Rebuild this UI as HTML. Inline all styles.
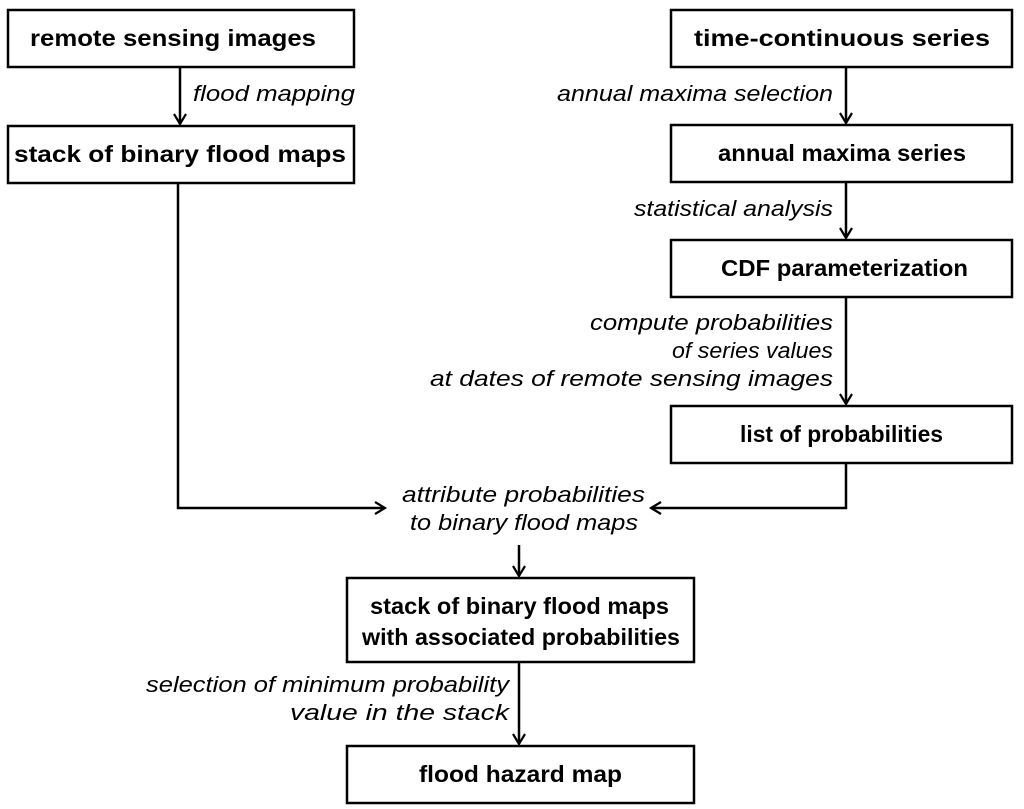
<!DOCTYPE html>
<html><head><style>body{margin:0;background:#fff}svg{display:block}</style></head>
<body>
<svg width="1024" height="809" viewBox="0 0 1024 809" xmlns="http://www.w3.org/2000/svg" font-family="Liberation Sans, sans-serif">
<defs><marker id="a" markerWidth="14" markerHeight="14" refX="11" refY="7" orient="auto" markerUnits="userSpaceOnUse"><path d="M1,1 L11,7 L1,13" fill="none" stroke="#000" stroke-width="2.2"/></marker></defs>
<g fill="#fff" stroke="#000" stroke-width="2.5">
<rect x="8" y="10" width="346" height="57"/>
<rect x="8" y="126" width="346" height="57"/>
<rect x="671" y="10" width="341" height="57"/>
<rect x="671" y="125" width="341" height="57"/>
<rect x="671" y="240" width="341" height="57"/>
<rect x="671" y="406" width="341" height="57"/>
<rect x="347" y="578" width="347" height="84"/>
<rect x="347" y="746" width="347" height="57"/>
</g>
<g stroke="#000" stroke-width="2.5" fill="none" marker-end="url(#a)">
<line x1="180" y1="67" x2="180" y2="124"/>
<polyline points="178,183 178,508 385,508"/>
<polyline points="846,463 846,508 651,508"/>
<line x1="846" y1="67" x2="846" y2="123"/>
<line x1="846" y1="182" x2="846" y2="238"/>
<line x1="846" y1="297" x2="846" y2="404"/>
<line x1="519" y1="545" x2="519" y2="576"/>
<line x1="519" y1="662" x2="519" y2="744"/>
</g>
<g font-weight="bold" font-size="23" fill="#000" lengthAdjust="spacingAndGlyphs">
<text x="30" y="46" textLength="286" lengthAdjust="spacingAndGlyphs">remote sensing images</text>
<text x="14" y="162" textLength="332" lengthAdjust="spacingAndGlyphs">stack of binary flood maps</text>
<text x="694" y="46" textLength="296" lengthAdjust="spacingAndGlyphs">time-continuous series</text>
<text x="718" y="161" textLength="248" lengthAdjust="spacingAndGlyphs">annual maxima series</text>
<text x="721" y="276" textLength="247" lengthAdjust="spacingAndGlyphs">CDF parameterization</text>
<text x="740" y="442" textLength="203" lengthAdjust="spacingAndGlyphs">list of probabilities</text>
<text x="370" y="614" textLength="299" lengthAdjust="spacingAndGlyphs">stack of binary flood maps</text>
<text x="362" y="645" textLength="318" lengthAdjust="spacingAndGlyphs">with associated probabilities</text>
<text x="419" y="782" textLength="203" lengthAdjust="spacingAndGlyphs">flood hazard map</text>
</g>
<g font-style="italic" font-size="22" fill="#000">
<text x="193" y="101" textLength="162" lengthAdjust="spacingAndGlyphs">flood mapping</text>
<text x="557" y="101" textLength="276" lengthAdjust="spacingAndGlyphs">annual maxima selection</text>
<text x="634" y="216" textLength="199" lengthAdjust="spacingAndGlyphs">statistical analysis</text>
<text x="590" y="330" textLength="243" lengthAdjust="spacingAndGlyphs">compute probabilities</text>
<text x="672" y="358" textLength="161" lengthAdjust="spacingAndGlyphs">of series values</text>
<text x="430" y="386" textLength="403" lengthAdjust="spacingAndGlyphs">at dates of remote sensing images</text>
<text x="402" y="502" textLength="243" lengthAdjust="spacingAndGlyphs">attribute probabilities</text>
<text x="410" y="530" textLength="228" lengthAdjust="spacingAndGlyphs">to binary flood maps</text>
<text x="146" y="692" textLength="363" lengthAdjust="spacingAndGlyphs">selection of minimum probability</text>
<text x="290" y="720" textLength="219" lengthAdjust="spacingAndGlyphs">value in the stack</text>
</g>
</svg>
</body></html>
